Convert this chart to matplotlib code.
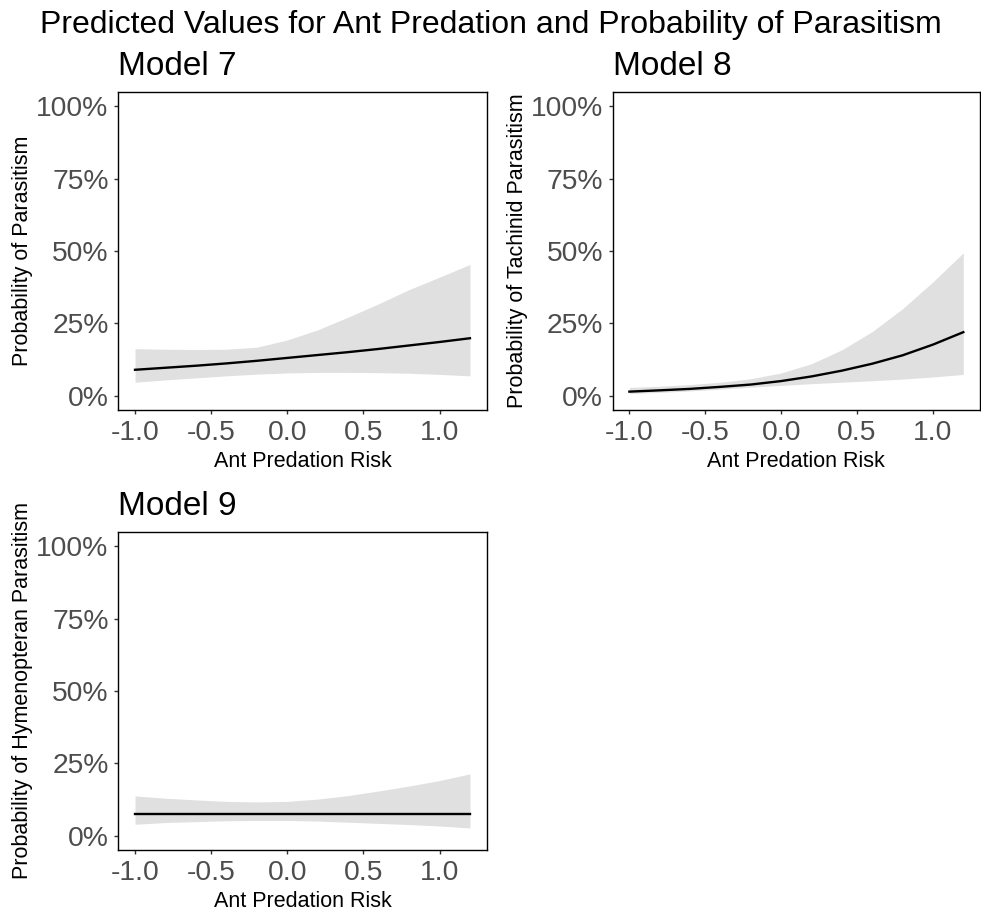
import numpy as np
import matplotlib
matplotlib.use("Agg")
import matplotlib.pyplot as plt

plt.rcParams['font.family'] = ['Liberation Sans', 'DejaVu Sans']

# predicted probabilities over ant predation risk (fit, lower and upper CI)
risk = [-1.0, -0.8, -0.6, -0.4, -0.2, 0.0, 0.2, 0.4, 0.6, 0.8, 1.0, 1.2]

m7_fit = [0.089, 0.096, 0.103, 0.111, 0.120, 0.130, 0.140, 0.150, 0.161, 0.173, 0.185, 0.198]
m7_lo = [0.046, 0.054, 0.061, 0.068, 0.074, 0.078, 0.080, 0.080, 0.079, 0.077, 0.073, 0.068]
m7_hi = [0.162, 0.160, 0.159, 0.160, 0.167, 0.192, 0.227, 0.271, 0.317, 0.366, 0.409, 0.453]

m8_fit = [0.0135, 0.018, 0.023, 0.030, 0.038, 0.050, 0.066, 0.086, 0.110, 0.139, 0.176, 0.219]
m8_lo = [0.007, 0.011, 0.016, 0.022, 0.029, 0.035, 0.041, 0.046, 0.051, 0.057, 0.064, 0.073]
m8_hi = [0.028, 0.032, 0.038, 0.046, 0.058, 0.078, 0.110, 0.158, 0.221, 0.300, 0.393, 0.493]

m9_fit = [0.076, 0.076, 0.076, 0.076, 0.076, 0.076, 0.076, 0.076, 0.076, 0.076, 0.076, 0.076]
m9_lo = [0.039, 0.045, 0.048, 0.051, 0.052, 0.052, 0.050, 0.046, 0.042, 0.038, 0.033, 0.026]
m9_hi = [0.137, 0.129, 0.123, 0.118, 0.116, 0.118, 0.126, 0.138, 0.154, 0.171, 0.190, 0.213]

panel_titles = ['Model 7', 'Model 8', 'Model 9']
y_titles = ['Probability of Parasitism',
            'Probability of Tachinid Parasitism',
            'Probability of Hymenopteran Parasitism']
x_title = 'Ant Predation Risk'
main_title = 'Predicted Values for Ant Predation and Probability of Parasitism'

x_ticks = [-1.0, -0.5, 0.0, 0.5, 1.0]
x_ticklabels = ['-1.0', '-0.5', '0.0', '0.5', '1.0']
y_ticks = [0, 0.25, 0.5, 0.75, 1.0]
y_ticklabels = ['0%', '25%', '50%', '75%', '100%']

W, H = 981, 911
fig = plt.figure(figsize=(W / 100, H / 100), dpi=100)


def px_axes(left, top, right, bottom):
    return fig.add_axes([left / W, 1 - bottom / H, (right - left) / W, (bottom - top) / H])


boxes = [(118.3, 91.7, 486.7, 410), (612.7, 91.7, 980, 410), (118.3, 531.7, 486.7, 850)]
series = [(m7_fit, m7_lo, m7_hi), (m8_fit, m8_lo, m8_hi), (m9_fit, m9_lo, m9_hi)]

for box, (fit, lo, hi), title, ytitle in zip(boxes, series, panel_titles, y_titles):
    ax = px_axes(*box)
    h = box[3] - box[1]
    ax.fill_between(risk, lo, hi, color='#e0e0e0', lw=0)
    ax.plot(risk, fit, color='black', lw=1.7)
    ax.set_xlim(-1.11, 1.31)
    ax.set_ylim(-0.05, 1.05)
    ax.set_xticks(x_ticks, x_ticklabels)
    ax.set_yticks(y_ticks, y_ticklabels)
    ax.tick_params(length=3.2, width=1.0, color='#333333', labelsize=20.3,
                   labelcolor='#4d4d4d', pad=3.8)
    for sp in ax.spines.values():
        sp.set_linewidth(1.0)
        sp.set_color('black')
    ax.set_xlabel(x_title, fontsize=15.5)
    ax.xaxis.set_label_coords(0.5, -56.7 / h)
    ax.xaxis.label.set_verticalalignment('baseline')
    ax.set_ylabel(ytitle, fontsize=15.5)
    ax.yaxis.set_label_coords(-0.2304, 0.5)
    ax.text(0, 1 + 16.7 / h, title, transform=ax.transAxes,
            fontsize=24, ha='left', va='baseline')

fig.text(0.5, 1 - 33.5 / H, main_title, fontsize=23, ha='center', va='baseline')

fig.savefig('out.png', dpi=100)
